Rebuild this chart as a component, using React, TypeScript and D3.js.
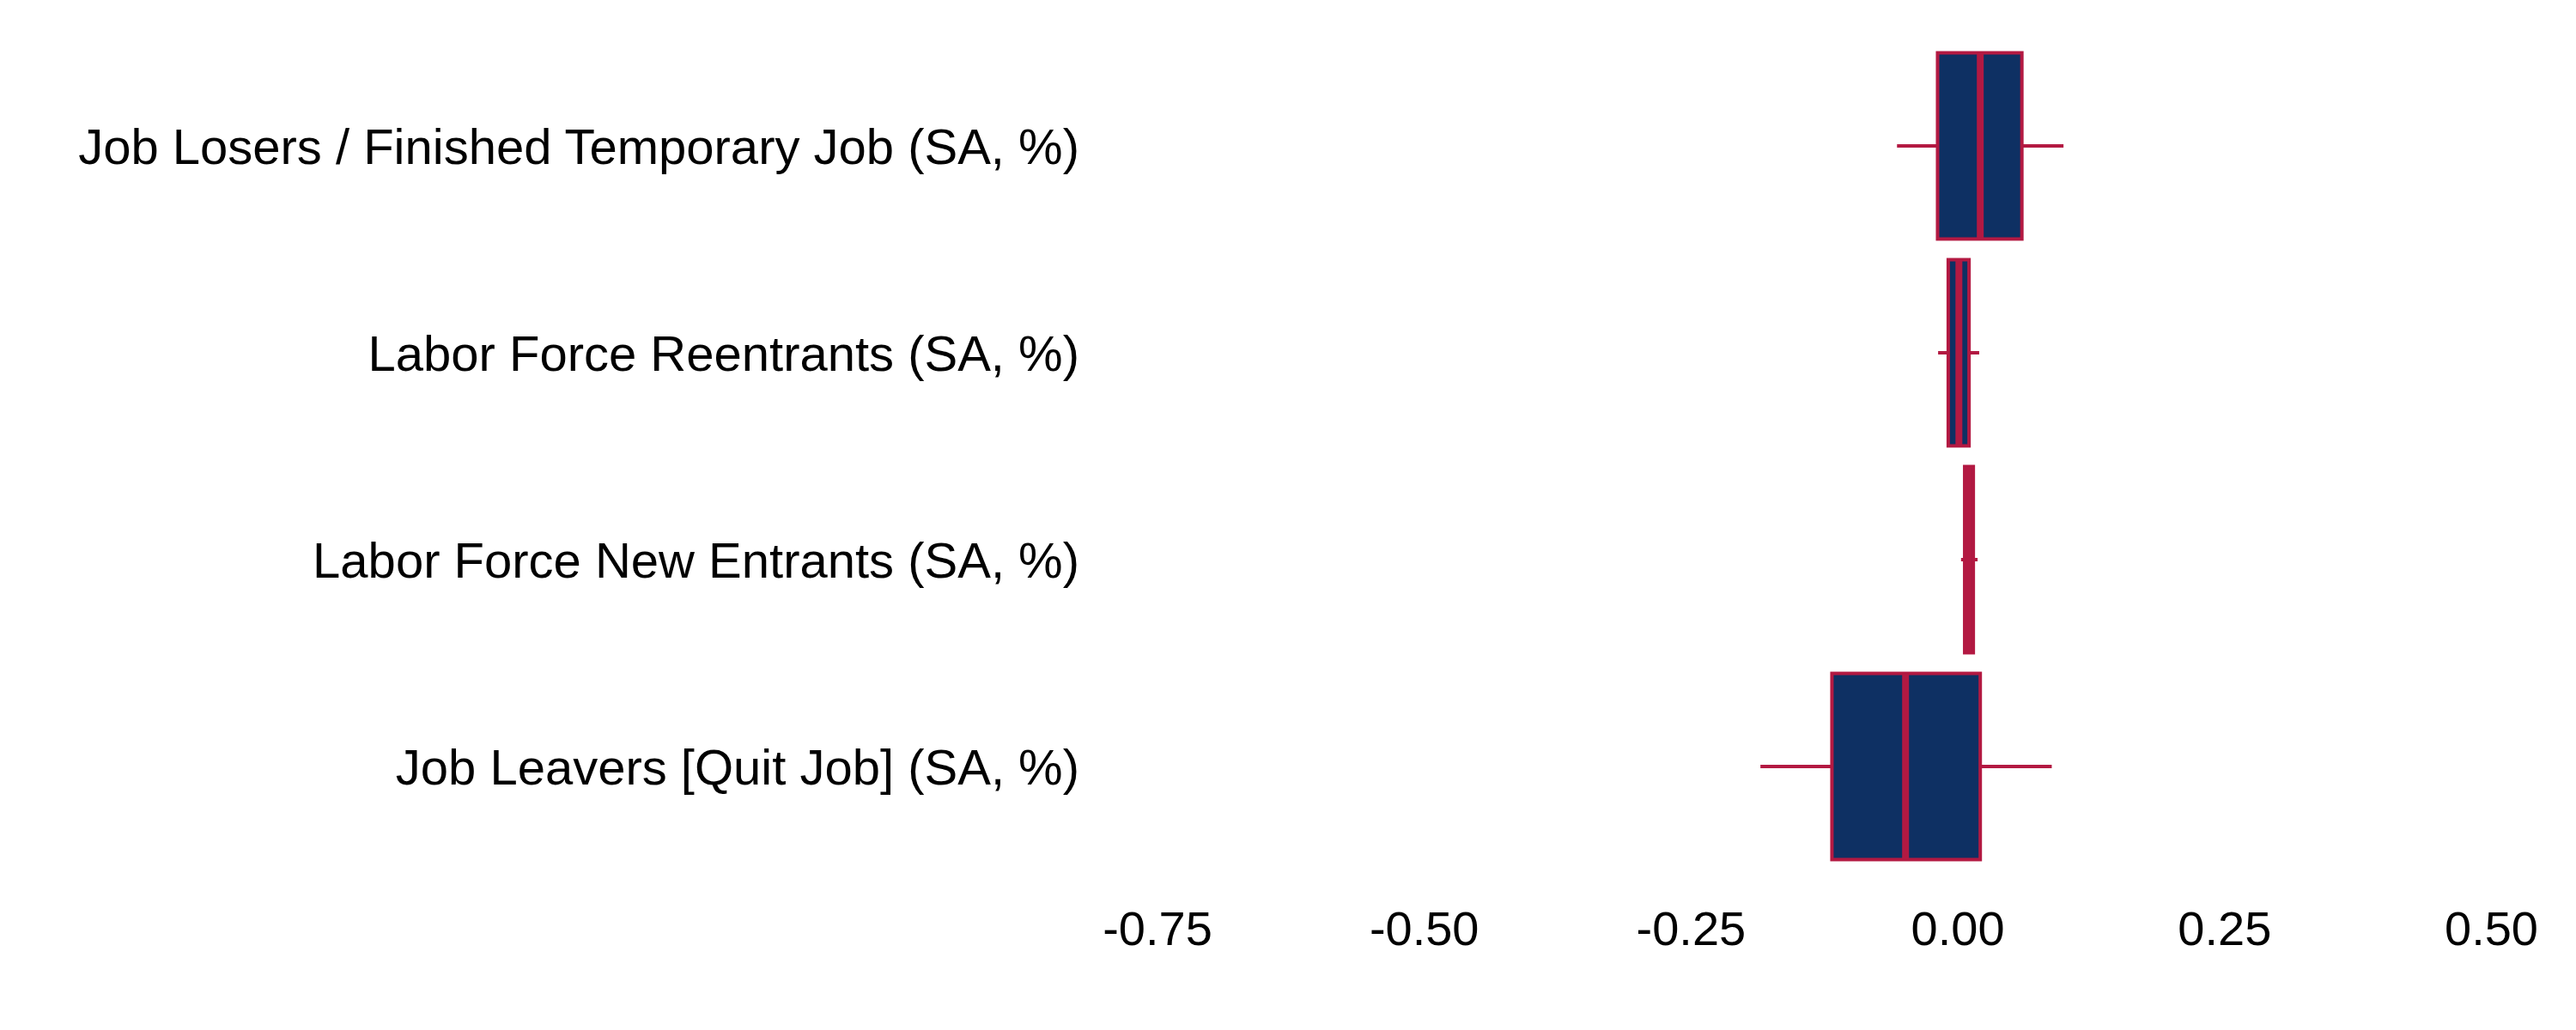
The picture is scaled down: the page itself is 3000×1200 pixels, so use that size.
import React from "react";
import * as d3 from "d3";

const categories = [
  "Job Losers / Finished Temporary Job (SA, %)",
  "Labor Force Reentrants (SA, %)",
  "Labor Force New Entrants (SA, %)",
  "Job Leavers [Quit Job] (SA, %)",
];
const whiskerLow = [-0.057, -0.0185, 0.003, -0.185];
const q1Values = [-0.019, -0.009, 0.0064, -0.118];
const medianValues = [0.021, 0.001, 0.010, -0.049];
const q3Values = [0.060, 0.0105, 0.0145, 0.021];
const whiskerHigh = [0.099, 0.020, 0.0185, 0.088];
const xTicks = [-0.75, -0.5, -0.25, 0, 0.25, 0.5];

const W = 3000;
const H = 1200;
const FILL = "#0E3063";
const STROKE = "#B31942";

export default function App() {
  const x = d3.scaleLinear().domain([-0.75, 0.5]).range([1348, 2901.5]);
  const y = d3
    .scaleBand<string>()
    .domain(categories)
    .range([25.4, 1037.6])
    .paddingInner(0.1)
    .paddingOuter(0.15);
  const bw = y.bandwidth();
  const fmt = (v: number) => v.toFixed(2);

  return (
    <div style={{ position: "fixed", left: 0, top: 0 }}>
      <svg width={W} height={H} style={{ display: "block", background: "#fff" }}>
        {categories.map((c, i) => {
          const y0 = y(c)!;
          const yc = y0 + bw / 2;
          return (
            <g key={c}>
              <line x1={x(whiskerLow[i])} x2={x(q1Values[i])} y1={yc} y2={yc} stroke={STROKE} strokeWidth={4} />
              <line x1={x(q3Values[i])} x2={x(whiskerHigh[i])} y1={yc} y2={yc} stroke={STROKE} strokeWidth={4} />
              <rect
                x={x(q1Values[i])}
                y={y0}
                width={x(q3Values[i]) - x(q1Values[i])}
                height={bw}
                fill={FILL}
                stroke={STROKE}
                strokeWidth={4}
              />
              <line x1={x(medianValues[i])} x2={x(medianValues[i])} y1={y0} y2={y0 + bw} stroke={STROKE} strokeWidth={8} />
              <text
                x={1257}
                y={yc}
                textAnchor="end"
                dominantBaseline="central"
                fontFamily="Liberation Sans, Arial, sans-serif"
                fontSize={58}
                fill="#000"
              >
                {c}
              </text>
            </g>
          );
        })}
        {xTicks.map((t) => (
          <text
            key={t}
            x={x(t)}
            y={1081}
            textAnchor="middle"
            dominantBaseline="central"
            fontFamily="Liberation Sans, Arial, sans-serif"
            fontSize={56}
            fill="#000"
          >
            {fmt(t)}
          </text>
        ))}
      </svg>
    </div>
  );
}
